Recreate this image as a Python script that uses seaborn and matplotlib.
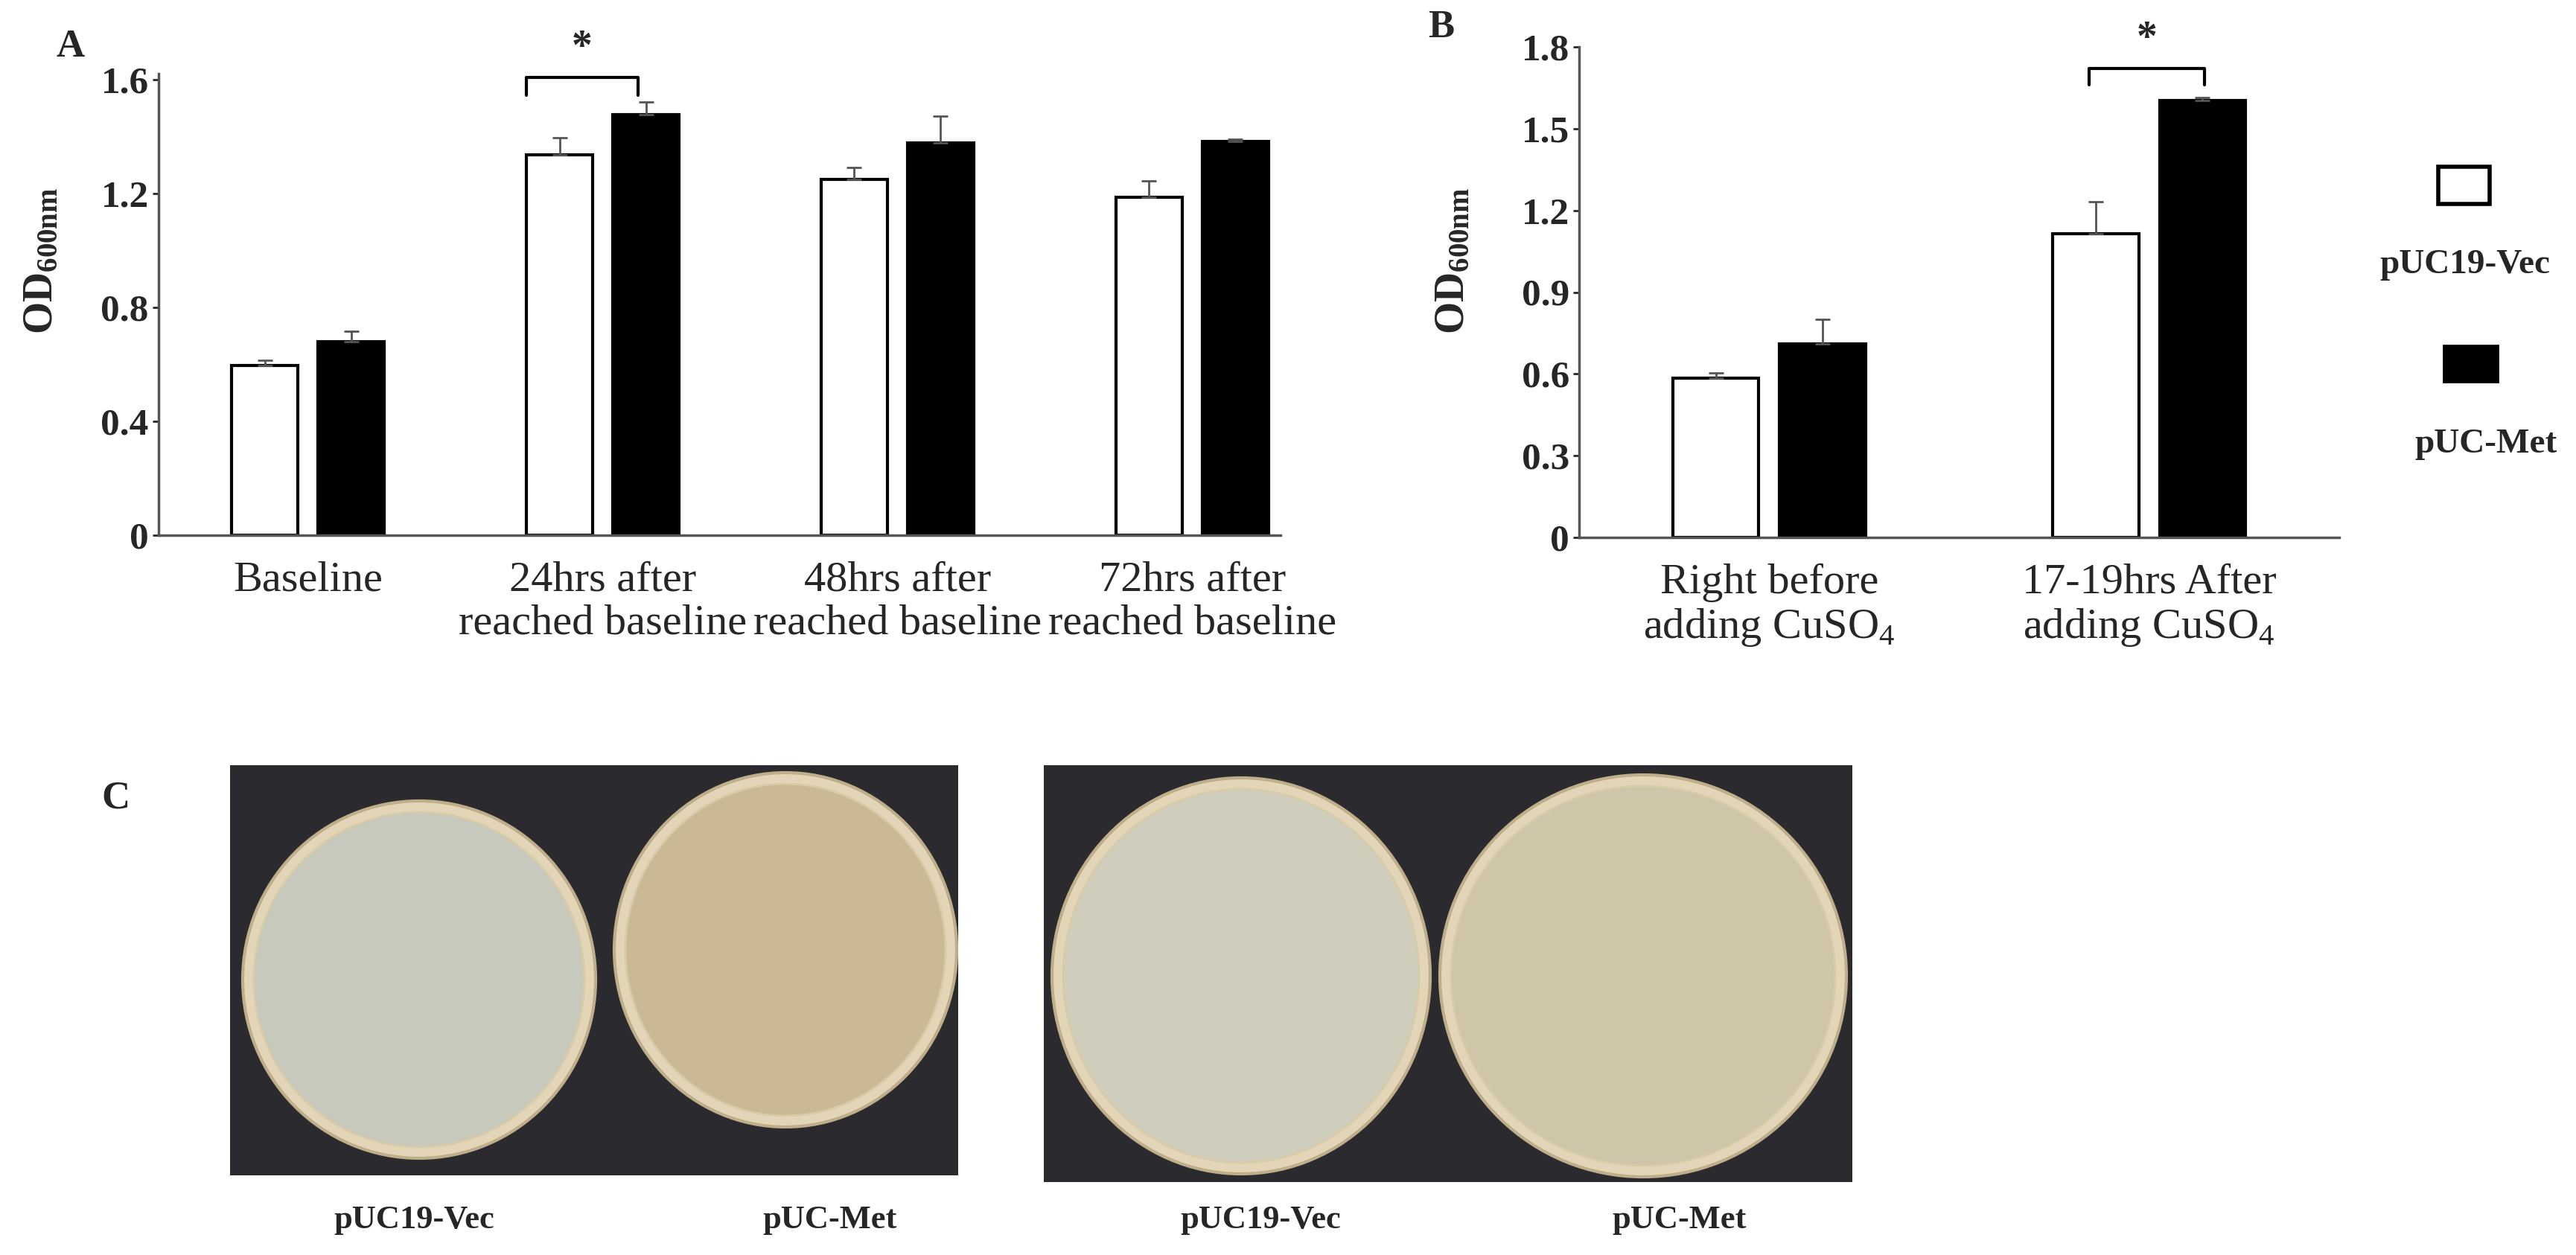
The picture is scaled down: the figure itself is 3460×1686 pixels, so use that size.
import numpy as np
import pandas as pd
import matplotlib
matplotlib.use("Agg")
import matplotlib.pyplot as plt
from matplotlib.patches import Ellipse, Rectangle
import seaborn as sns

sns.set_style("ticks")
plt.rcParams['font.family'] = ['Liberation Serif', 'DejaVu Serif']
plt.rcParams['mathtext.fontset'] = 'custom'
plt.rcParams['mathtext.rm'] = 'Liberation Serif'
plt.rcParams['mathtext.bf'] = 'Liberation Serif:bold'

groups = ["pUC19-Vec", "pUC-Met"]
a_cats = ["Baseline", "24hrs after\nreached baseline", "48hrs after\nreached baseline", "72hrs after\nreached baseline"]
a_vec = [0.596, 1.335, 1.248, 1.185]
a_met = [0.679, 1.476, 1.378, 1.383]
a_vec_err = [0.018, 0.060, 0.042, 0.060]
a_met_err = [0.036, 0.044, 0.093, 0.008]
b_cats = ["Right before\nadding CuSO$_4$", "17-19hrs After\nadding CuSO$_4$"]
b_vec = [0.584, 1.115]
b_met = [0.710, 1.604]
b_vec_err = [0.019, 0.116]
b_met_err = [0.090, 0.011]

W, H = 3460, 1686
fig = plt.figure(figsize=(W/100, H/100), dpi=100)
pal = {"pUC19-Vec": "white", "pUC-Met": "black"}

def panel(rect, cats, vec, met, verr, merr, width, gap, xlim, ylim, yticks, yfmt):
    ax = fig.add_axes(rect)
    df = pd.DataFrame({"cat": cats * 2, "grp": [groups[0]] * len(cats) + [groups[1]] * len(cats),
                       "val": vec + met})
    sns.barplot(data=df, x="cat", y="val", hue="grp", palette=pal, width=width, gap=gap,
                edgecolor="black", linewidth=3, ax=ax, legend=False, errorbar=None)
    off = width / 4
    x = np.arange(len(cats))
    for xs, v, e in [(x - off, vec, verr), (x + off, met, merr)]:
        ax.errorbar(xs, v, yerr=[np.zeros(len(v)), e], fmt="none", ecolor="#555555",
                    elinewidth=2, capsize=7, capthick=2, zorder=1)
    ax.set_xlim(*xlim)
    ax.set_ylim(*ylim)
    ax.set_yticks(yticks)
    ax.set_yticklabels([yfmt(t) for t in yticks], fontsize=37, fontweight="bold")
    ax.set_xticks(x)
    ax.set_xticklabels(cats, fontsize=42, linespacing=1.15)
    ax.tick_params(axis="x", length=0, pad=25)
    ax.tick_params(axis="y", length=6, width=2, direction="out")
    ax.set_xlabel("")
    ax.set_ylabel("")
    for s in ["top", "right"]:
        ax.spines[s].set_visible(False)
    ax.spines["left"].set_color("#555555")
    ax.spines["bottom"].set_color("#555555")
    ax.spines["left"].set_linewidth(2.5)
    ax.spines["bottom"].set_linewidth(2.5)
    return ax

fa = lambda t: "0" if t == 0 else f"{t:.1f}"
axA = panel([213/W, 1 - 719/H, (1720-213)/W, (719-99)/H], a_cats, a_vec, a_met, a_vec_err, a_met_err,
            0.586, 0.232, (-0.507, 3.3), (0, 1.62), [0, 0.4, 0.8, 1.2, 1.6], fa)
axB = panel([2121/W, 1 - 722/H, (3142-2121)/W, (722-63)/H], b_cats, b_vec, b_met, b_vec_err, b_met_err,
            0.562, 0.196, (-0.5, 1.5), (0, 1.8), [0, 0.3, 0.6, 0.9, 1.2, 1.5, 1.8], fa)

for ax, x0, x1, yt, yb, ys in [(axA, 0.741, 1.12, 1.607, 1.545, 1.64), (axB, 0.842, 1.145, 1.722, 1.66, 1.755)]:
    ax.plot([x0, x0, x1, x1], [yb, yt, yt, yb], color="black", lw=3, clip_on=False)
    ax.text((x0 + x1) / 2, ys, "*", ha="center", va="bottom", fontsize=40, fontweight="bold", clip_on=False)

for ax, xp in [(axA, 56), (axB, 1952)]:
    fig.text(xp/W, 1 - 350/H, r"$\mathbf{OD_{600nm}}$", rotation=90, ha="center", va="center",
             fontsize=40)

fig.text(95/W, 1 - 63/H, "A", fontsize=38, fontweight="bold", ha="center", va="center")
fig.text(1936/W, 1 - 37/H, "B", fontsize=38, fontweight="bold", ha="center", va="center")
fig.text(155/W, 1 - 1073/H, "C", fontsize=38, fontweight="bold", ha="center", va="center")

# legend
fig.patches.append(Rectangle((3275/W, 1 - 274/H), 69/W, 50/H, transform=fig.transFigure,
                             facecolor="white", edgecolor="black", lw=4))
fig.patches.append(Rectangle((3282/W, 1 - 513/H), 73/W, 49/H, transform=fig.transFigure,
                             facecolor="black", edgecolor="black", lw=2))
fig.text(3311/W, 1 - 356/H, "pUC19-Vec", fontsize=34, fontweight="bold", ha="center", va="center")
fig.text(3339/W, 1 - 597/H, "pUC-Met", fontsize=34, fontweight="bold", ha="center", va="center")

# panel C photos (drawn schematically)
photos = [(309, 1287, 1028, 1579, [(563, 1316, 237, 240, "#c7c9bc"), (1055, 1276, 230, 238, "#cbb894")]),
          (1402, 2488, 1028, 1588, [(1667, 1311, 254, 266, "#cfcdbc"), (2207, 1311, 273, 270, "#cfc6aa")])]
for x0, x1, y0, y1, plates in photos:
    pax = fig.add_axes([x0/W, 1 - y1/H, (x1-x0)/W, (y1-y0)/H])
    pax.set_xlim(x0, x1)
    pax.set_ylim(y1, y0)
    pax.set_facecolor("#2b2a2e")
    pax.set_xticks([]); pax.set_yticks([])
    for s in pax.spines.values():
        s.set_visible(False)
    for cx, cy, rx, ry, col in plates:
        pax.add_patch(Ellipse((cx, cy), 2*rx, 2*ry, facecolor="#e3d6b8", edgecolor="#bfae8a", lw=3))
        pax.add_patch(Ellipse((cx, cy), 2*rx - 30, 2*ry - 30, facecolor=col, edgecolor="#d8cba8", lw=2))

for xc, t in [(556, "pUC19-Vec"), (1115, "pUC-Met"), (1693, "pUC19-Vec"), (2256, "pUC-Met")]:
    fig.text(xc/W, 1 - 1639/H, t, fontsize=32, fontweight="bold", ha="center", va="center")

fig.savefig("out.png", dpi=100, facecolor="white")
